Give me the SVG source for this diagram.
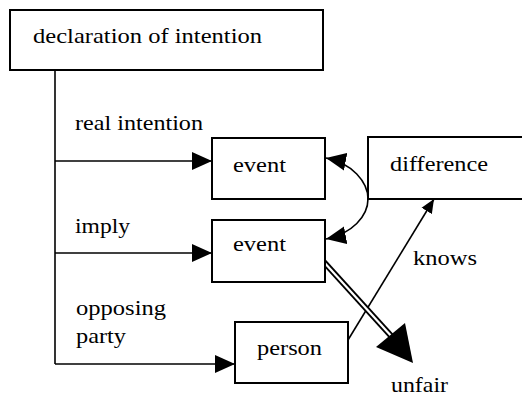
<svg xmlns="http://www.w3.org/2000/svg" width="522" height="398" viewBox="0 0 522 398">
  <style>
    .box { fill: #fff; stroke: #000; stroke-width: 2; }
    .ln { fill: none; stroke: #000; stroke-width: 1.6; }
    text { font-size: 22px; fill: #000; }
  </style>
  <defs>
    <marker id="tri" viewBox="0 0 20 20" refX="20" refY="10" markerWidth="20" markerHeight="20" markerUnits="userSpaceOnUse" orient="auto-start-reverse">
      <path d="M0,1 L20,10 L0,19 Z" fill="#000"/>
    </marker>
    <marker id="tri-s" viewBox="0 0 14 14" refX="14" refY="7" markerWidth="14" markerHeight="14" markerUnits="userSpaceOnUse" orient="auto">
      <path d="M0,1 L14,7 L0,13 Z" fill="#000"/>
    </marker>
  </defs>

  <!-- connectors -->
  <g id="connectors">
    <!-- trunk from the declaration box -->
    <path class="ln" d="M55,71 V364"/>
    <path class="ln" d="M55,161 H212" marker-end="url(#tri)"/>
    <path class="ln" d="M55,253 H212" marker-end="url(#tri)"/>
    <path class="ln" d="M55,364 H235" marker-end="url(#tri)"/>
    <!-- difference relates both events -->
    <path class="ln" d="M326,158 C352,163 368,182 368,199 C368,216 352,234 326,239" marker-start="url(#tri)" marker-end="url(#tri)"/>
    <!-- knows: person to difference -->
    <path class="ln" d="M348,340 L434,199" marker-end="url(#tri-s)"/>
    <!-- double-line arrow to unfair -->
    <path d="M323,261 L393,338" stroke="#000" stroke-width="6" fill="none"/>
    <path d="M322,260 L393,338" stroke="#fff" stroke-width="2.2" fill="none"/>
    <polygon points="376,347 405,323 413,363" fill="#000"/>
  </g>

  <g font-family="'Liberation Serif', 'DejaVu Serif', serif">
    <g id="declaration">
      <rect class="box" x="10" y="10" width="313" height="60"/>
      <text x="33" y="43" textLength="229" lengthAdjust="spacingAndGlyphs">declaration of intention</text>
    </g>

    <g id="event1">
      <rect class="box" x="212" y="138" width="113" height="61"/>
      <text x="233" y="172" textLength="53" lengthAdjust="spacingAndGlyphs">event</text>
    </g>

    <g id="event2">
      <rect class="box" x="212" y="220" width="113" height="62"/>
      <text x="233" y="251" textLength="53" lengthAdjust="spacingAndGlyphs">event</text>
    </g>

    <g id="difference">
      <rect class="box" x="368" y="137" width="160" height="62"/>
      <text x="390" y="171" textLength="98" lengthAdjust="spacingAndGlyphs">difference</text>
    </g>

    <g id="person">
      <rect class="box" x="235" y="322" width="113" height="61"/>
      <text x="257" y="355" textLength="65" lengthAdjust="spacingAndGlyphs">person</text>
    </g>

    <g id="labels">
      <text x="75" y="130" textLength="128" lengthAdjust="spacingAndGlyphs">real intention</text>
      <text x="75" y="233" textLength="55" lengthAdjust="spacingAndGlyphs">imply</text>
      <text x="76" y="315" textLength="90" lengthAdjust="spacingAndGlyphs">opposing</text>
      <text x="76" y="343" textLength="50" lengthAdjust="spacingAndGlyphs">party</text>
      <text x="413" y="265" textLength="64" lengthAdjust="spacingAndGlyphs">knows</text>
      <text x="391" y="392" textLength="57" lengthAdjust="spacingAndGlyphs">unfair</text>
    </g>
  </g>
</svg>
